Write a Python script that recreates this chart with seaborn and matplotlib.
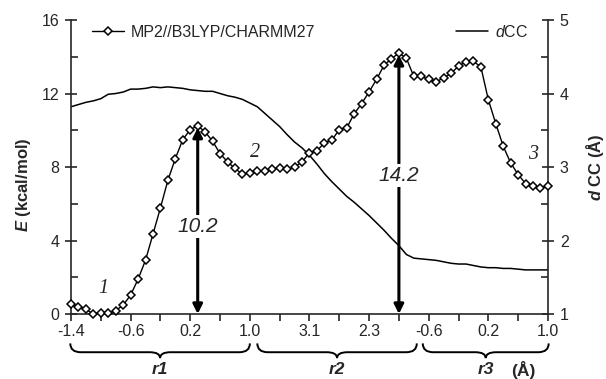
import numpy as np
import pandas as pd
import matplotlib.pyplot as plt
import matplotlib.transforms as mtransforms
from matplotlib.path import Path
from matplotlib.patches import PathPatch
import seaborn as sns

sns.set_style("ticks")
plt.rcParams['font.family'] = ['Liberation Sans', 'DejaVu Sans']
plt.rcParams['mathtext.fontset'] = 'custom'
plt.rcParams['mathtext.rm'] = 'Liberation Sans'
plt.rcParams['mathtext.it'] = 'Liberation Sans:italic'
plt.rcParams['mathtext.bf'] = 'Liberation Sans:bold'
plt.rcParams['mathtext.bfit'] = 'Liberation Sans:italic:bold'

# energy along the combined scan r1 -> r2 -> r3 (kcal/mol)
energy = [0.54, 0.40, 0.25, 0.00, 0.07, 0.04, 0.18, 0.49, 1.03, 1.90,
          2.93, 4.35, 5.78, 7.28, 8.46, 9.49, 10.04, 10.24, 9.91, 9.40,
          8.73, 8.28, 7.92, 7.61, 7.68, 7.80, 7.80, 7.87, 7.97, 7.88,
          8.00, 8.28, 8.77, 8.88, 9.32, 9.46, 10.04, 10.13, 10.90, 11.45,
          12.09, 12.77, 13.53, 13.90, 14.20, 13.92, 12.93, 12.93, 12.77, 12.63,
          12.86, 13.09, 13.50, 13.72, 13.75, 13.45, 11.66, 10.36, 9.13, 8.22,
          7.59, 7.10, 6.98, 6.84, 6.98]

# C-C distance (Angstrom)
dcc = [3.82, 3.85, 3.88, 3.90, 3.93, 3.99, 4.00, 4.02, 4.06, 4.06,
       4.07, 4.09, 4.08, 4.09, 4.08, 4.07, 4.05, 4.04, 4.03, 4.03,
       4.00, 3.97, 3.95, 3.92, 3.87, 3.82, 3.73, 3.64, 3.55, 3.44,
       3.34, 3.26, 3.16, 3.04, 2.91, 2.80, 2.70, 2.60, 2.52, 2.43,
       2.34, 2.24, 2.14, 2.03, 1.93, 1.81, 1.76, 1.75, 1.74, 1.73,
       1.71, 1.69, 1.68, 1.68, 1.66, 1.64, 1.63, 1.63, 1.62, 1.62,
       1.61, 1.60, 1.60, 1.60, 1.60]

tick_labels = ["-1.4", "-0.6", "0.2", "1.0", "3.1", "2.3", "-0.6", "0.2", "1.0"]
barrier_idx = [17, 44]
barrier_txt = ["10.2", "14.2"]
barrier_txt_y = [4.75, 7.55]
state_labels = ["1", "2", "3"]
state_pos = [(4.3, 1.4), (24.7, 8.8), (62.0, 8.7)]
segments = [("r1", -0.1, 24.0), ("r2", 25.0, 46.4), ("r3", 47.2, 64.1)]

df = pd.DataFrame({"step": np.arange(len(energy)), "E": energy, "dCC": dcc})

fig = plt.figure(figsize=(6.06, 3.79), dpi=100)
ax = fig.add_axes([0.1172, 0.1715, 0.787, 0.7757])
ax2 = ax.twinx()

sns.lineplot(data=df, x="step", y="E", ax=ax, color="black", lw=1.0,
             marker="D", markersize=4.2, markerfacecolor="white",
             markeredgecolor="black", markeredgewidth=1.1,
             label="MP2//B3LYP/CHARMM27", clip_on=False, zorder=5)
sns.lineplot(data=df, x="step", y="dCC", ax=ax2, color="black", lw=1.1,
             label="$d$CC")

ax.set_zorder(ax2.get_zorder() + 1)
ax.patch.set_visible(False)

ax.set_xlim(0, 64)
ax.set_ylim(0, 16)
ax2.set_ylim(1, 5)

ax.set_xticks(np.arange(0, 65, 8))
ax.set_xticklabels(tick_labels, fontsize=11.5)
ax.set_xticks(np.arange(0, 65, 4), minor=True)
ax.set_yticks([0, 4, 8, 12, 16])
ax.set_yticks([2, 6, 10, 14], minor=True)
ax2.set_yticks([1, 2, 3, 4, 5])
ax2.set_yticks([1.5, 2.5, 3.5, 4.5], minor=True)

for a in (ax, ax2):
    for s in a.spines.values():
        s.set_linewidth(1.2)
    a.spines["top"].set_visible(False)
ax.spines["right"].set_visible(False)
ax2.spines["left"].set_visible(False)
ax2.spines["bottom"].set_visible(False)

ax.tick_params(axis="x", which="both", direction="out", length=5, width=1.2,
               labelsize=11.5, pad=2)
ax.tick_params(axis="y", which="major", direction="inout", length=9, width=1.2,
               labelsize=11.5, pad=4)
ax.tick_params(axis="y", which="minor", direction="in", length=5, width=1.2)
ax2.tick_params(axis="y", which="major", direction="inout", length=9, width=1.2,
                labelsize=11.5, pad=4)
ax2.tick_params(axis="y", which="minor", direction="in", length=5, width=1.2)

ax.set_xlabel("")
ax.set_ylabel(r"$\mathbfit{E}$ (kcal/mol)", fontsize=12, fontweight="bold")
ax.yaxis.set_label_coords(-0.080, 0.44)
ax2.set_ylabel(r"$\mathbfit{d}$ CC (Å)", fontsize=12, fontweight="bold")
ax2.yaxis.set_label_coords(1.076, 0.5)

# legends
ax.legend(loc="center left", bbox_to_anchor=(0.044, 0.959), frameon=False,
          fontsize=11.5, borderpad=0, borderaxespad=0, handlelength=2.0,
          handletextpad=0.4)
ax2.legend(loc="center right", bbox_to_anchor=(0.958, 0.959), frameon=False,
           fontsize=11.5, borderpad=0, borderaxespad=0, handlelength=2.0,
           handletextpad=0.4)

# barrier arrows
for i, txt, ty in zip(barrier_idx, barrier_txt, barrier_txt_y):
    ax.annotate("", xy=(i, energy[i] - 0.1), xytext=(i, 0),
                arrowprops=dict(arrowstyle="<|-|>", lw=2.2, color="black",
                                mutation_scale=14, shrinkA=0, shrinkB=0),
                zorder=4)
    ax.text(i, ty, txt, ha="center", va="center", fontsize=15, style="italic",
            zorder=6, bbox=dict(facecolor="white", edgecolor="none", pad=1.5))

for lab, (x, y) in zip(state_labels, state_pos):
    ax.text(x, y, lab, ha="center", va="center", fontsize=14.5, style="italic",
            family="Liberation Serif", zorder=6)

# braces under the axis
trans = mtransforms.blended_transform_factory(ax.transData, ax.transAxes)
y0, y1, y2 = -0.100, -0.130, -0.150
r = 1.4
for lab, x0, x1 in segments:
    xm = (x0 + x1) / 2
    verts = [(x0, y0), (x0, y1), (x0 + r, y1), (xm - r, y1), (xm, y1), (xm, y2),
             (xm, y1), (xm + r, y1), (x1 - r, y1), (x1, y1), (x1, y0)]
    codes = [Path.MOVETO, Path.CURVE3, Path.CURVE3, Path.LINETO, Path.CURVE3,
             Path.CURVE3, Path.CURVE3, Path.CURVE3, Path.LINETO, Path.CURVE3,
             Path.CURVE3]
    ax.add_patch(PathPatch(Path(verts, codes), fill=False, lw=1.4,
                           edgecolor="black", transform=trans, clip_on=False))
    ax.text(xm, -0.19, lab, transform=trans, ha="center", va="center",
            fontsize=12.5, fontweight="bold", style="italic")
ax.text(60.7, -0.19, "(Å)", transform=trans, ha="center", va="center",
        fontsize=12.5, fontweight="bold")

fig.savefig("out.png", dpi=100)
